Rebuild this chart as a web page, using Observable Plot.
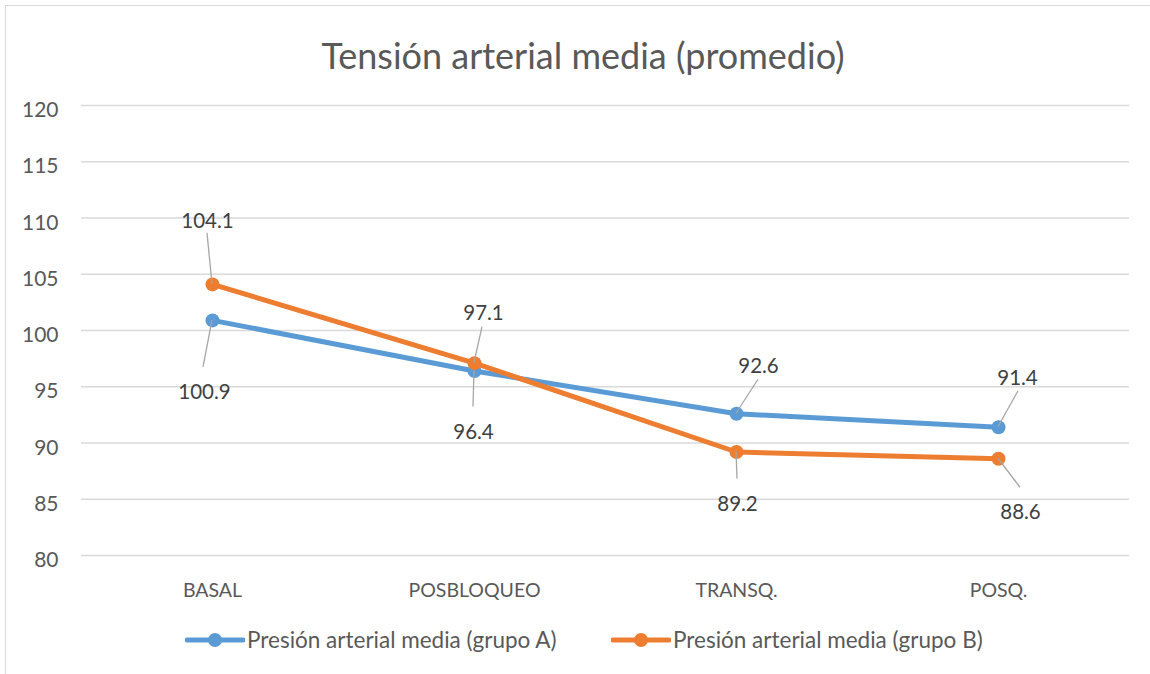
<!DOCTYPE html>
<html>
<head>
<meta charset="utf-8">
<script src="https://cdn.jsdelivr.net/npm/d3@7"></script>
<script src="https://cdn.jsdelivr.net/npm/@observablehq/plot@0.6"></script>
<style>
  html, body { margin: 0; padding: 0; background: #fff; }
  #wrap { position: relative; width: 1150px; height: 674px; overflow: hidden; font-family: Lato, "Open Sans", sans-serif; }
  #frame { position: absolute; left: 5px; top: 5px; right: -20px; bottom: -20px; border-top: 1.5px solid #d9d9d9; border-left: 1.5px solid #d9d9d9; }
  #title { position: absolute; left: 0; width: 1166px; top: 33px; text-align: center; font-size: 36px; color: #595959; white-space: nowrap; }
  #chart { position: absolute; left: 0; top: 0; }
  .item { position: absolute; top: 626px; display: flex; align-items: center; font-size: 22.5px; color: #595959; white-space: nowrap; }
  .item svg { margin-right: 2px; }
</style>
</head>
<body>
<div id="wrap">
  <div id="frame"></div>
  <div id="title">Tensión arterial media (promedio)</div>
  <div id="chart"></div>
  <div id="legend"></div>
</div>
<script>
// Measurement moments along the x axis
const categories = ["BASAL", "POSBLOQUEO", "TRANSQ.", "POSQ."];
// Series names
const seriesNames = ["Presión arterial media (grupo A)", "Presión arterial media (grupo B)"];
// Mean arterial pressure per group
const groupA = [100.9, 96.4, 92.6, 91.4];
const groupB = [104.1, 97.1, 89.2, 88.6];
// Y axis ticks
const yTicks = [80, 85, 90, 95, 100, 105, 110, 115, 120];

const colors = ["#5B9BD5", "#ED7D31"];

// Pixel offsets for each data label (text anchor and leader line end), in series/category order
const labelOffsets = [
  [{dx: -8, dy: 72, lx: -9, ly: 47}, {dx: -1, dy: 61, lx: -1, ly: 36}, {dx: 22, dy: -47, lx: 22, ly: -34}, {dx: 19, dy: -49, lx: 20, ly: -36}],
  [{dx: -5, dy: -63, lx: -5, ly: -51}, {dx: 9, dy: -50, lx: 8, ly: -36}, {dx: 1, dy: 52, lx: 1, ly: 27}, {dx: 22, dy: 54, lx: 22, ly: 29}]
];

const rows = [];
[groupA, groupB].forEach((vals, s) => {
  vals.forEach((v, i) => rows.push({series: seriesNames[s], cat: categories[i], value: v, s, i}));
});

const labelMarks = rows.map(r => {
  const o = labelOffsets[r.s][r.i];
  return Plot.text([r], {
    x: "cat", y: "value", text: d => d.value.toFixed(1),
    dx: o.dx, dy: o.dy, fill: "#404040", fontSize: 20.5, textAnchor: "middle"
  });
});

const chart = Plot.plot({
  width: 1150,
  height: 610,
  marginLeft: 81,
  marginRight: 21,
  marginTop: 105,
  marginBottom: 55,
  style: {fontFamily: "Lato, 'Open Sans', sans-serif", background: "transparent", overflow: "visible"},
  x: {type: "point", domain: categories, padding: 0.5, axis: null},
  y: {domain: [80, 120], axis: null},
  color: {domain: seriesNames, range: colors},
  marks: [
    Plot.ruleY(yTicks, {stroke: "#d9d9d9", strokeWidth: 1.5}),
    Plot.text(yTicks, {y: d => d, text: d => String(d), frameAnchor: "left", textAnchor: "end", dx: -23, dy: 5, fill: "#595959", fontSize: 21}),
    Plot.text(categories, {x: d => d, text: d => d, frameAnchor: "bottom", dy: 41, fill: "#595959", fontSize: 19.5}),
    Plot.line(rows.filter(r => r.s === 0), {x: "cat", y: "value", stroke: "series", strokeWidth: 5, strokeLinejoin: "round"}),
    Plot.dot(rows.filter(r => r.s === 0), {x: "cat", y: "value", fill: "series", r: 7}),
    Plot.line(rows.filter(r => r.s === 1), {x: "cat", y: "value", stroke: "series", strokeWidth: 5, strokeLinejoin: "round"}),
    Plot.dot(rows.filter(r => r.s === 1), {x: "cat", y: "value", fill: "series", r: 7}),
    ...labelMarks
  ]
});

// Leader lines from each point to its label, positioned with the chart's own scales
const sx = chart.scale("x");
const sy = chart.scale("y");
const fx = sx.apply ? (v => sx.apply(v)) : d3.scalePoint().domain(sx.domain).range(sx.range).padding(sx.padding ?? 0.5).align(sx.align ?? 0.5);
const fy = sy.apply ? (v => sy.apply(v)) : d3.scaleLinear().domain(sy.domain).range(sy.range);
const leaders = d3.select(chart).append("g").attr("stroke", "#a6a6a6").attr("stroke-width", 1.3);
rows.forEach(r => {
  const o = labelOffsets[r.s][r.i];
  const px = fx(r.cat), py = fy(r.value);
  leaders.append("line").attr("x1", px).attr("y1", py).attr("x2", px + o.lx).attr("y2", py + o.ly);
});

document.getElementById("chart").appendChild(chart);

// Legend
const legend = document.getElementById("legend");
const legendLeft = [185, 611];
seriesNames.forEach((name, k) => {
  const item = document.createElement("div");
  item.className = "item";
  item.style.left = legendLeft[k] + "px";
  item.innerHTML = `<svg width="60" height="16"><line x1="2" y1="8" x2="58" y2="8" stroke="${colors[k]}" stroke-width="5" stroke-linecap="round"/><circle cx="30" cy="8" r="7" fill="${colors[k]}"/></svg><span>${name}</span>`;
  legend.appendChild(item);
});
</script>
</body>
</html>
